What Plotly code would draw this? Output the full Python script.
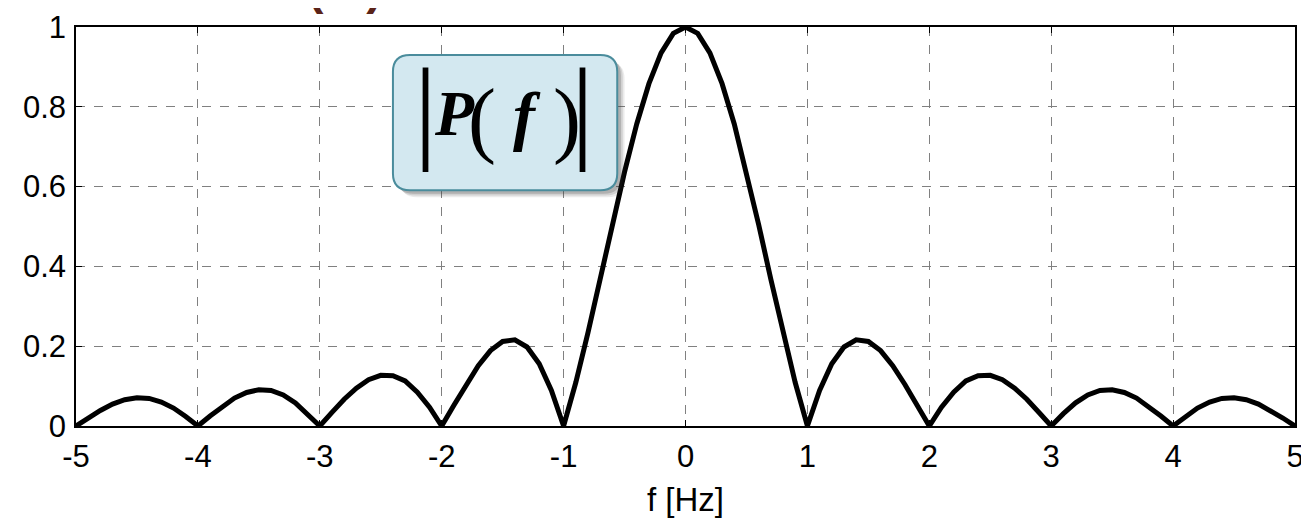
import plotly.graph_objects as go

freq = [round(-5 + 0.1 * i, 1) for i in range(101)]
magnitude = [
    0.000, 0.020, 0.039, 0.055, 0.066, 0.071, 0.069, 0.060, 0.045, 0.024,
    0.000, 0.025, 0.049, 0.070, 0.084, 0.091, 0.089, 0.078, 0.058, 0.031,
    0.000, 0.034, 0.067, 0.095, 0.116, 0.127, 0.126, 0.113, 0.085, 0.047,
    0.000, 0.052, 0.104, 0.151, 0.189, 0.212, 0.216, 0.198, 0.156, 0.089,
    0.000, 0.109, 0.234, 0.368, 0.505, 0.637, 0.757, 0.858, 0.935, 0.984,
    1.000,
    0.984, 0.935, 0.858, 0.757, 0.637, 0.505, 0.368, 0.234, 0.109, 0.000,
    0.089, 0.156, 0.198, 0.216, 0.212, 0.189, 0.151, 0.104, 0.052, 0.000,
    0.047, 0.085, 0.113, 0.126, 0.127, 0.116, 0.095, 0.067, 0.034, 0.000,
    0.031, 0.058, 0.078, 0.089, 0.091, 0.084, 0.070, 0.049, 0.025, 0.000,
    0.024, 0.045, 0.060, 0.069, 0.071, 0.066, 0.055, 0.039, 0.020, 0.000,
]
x_ticks = [-5, -4, -3, -2, -1, 0, 1, 2, 3, 4, 5]
y_ticks = [0, 0.2, 0.4, 0.6, 0.8, 1]
y_tick_labels = ["0", "0.2", "0.4", "0.6", "0.8", "1"]
x_title = "f [Hz]"

fig = go.Figure()
fig.add_trace(go.Scatter(x=freq, y=magnitude, mode="lines",
                         line=dict(color="black", width=5), showlegend=False))

def rounded(x0, x1, y0, y1, rx, ry):
    return (f"M {x0+rx},{y1} L {x1-rx},{y1} Q {x1},{y1} {x1},{y1-ry} "
            f"L {x1},{y0+ry} Q {x1},{y0} {x1-rx},{y0} L {x0+rx},{y0} "
            f"Q {x0},{y0} {x0},{y0+ry} L {x0},{y1-ry} Q {x0},{y1} {x0+rx},{y1} Z")

bx0, bx1, by0, by1 = -2.40, -0.56, 0.591, 0.930
rx, ry = 0.14, 0.042
# soft shadow
for k, a in [(0.06, 0.10), (0.045, 0.15), (0.03, 0.22)]:
    fig.add_shape(type="path", path=rounded(bx0 + k, bx1 + k, by0 - k * 0.3, by1 - k * 0.3, rx, ry),
                  fillcolor=f"rgba(60,60,60,{a})", line=dict(width=0), layer="above")
fig.add_shape(type="path", path=rounded(bx0, bx1, by0, by1, rx, ry),
              fillcolor="#d3e8f0", line=dict(color="#4a8c9c", width=2), layer="above")

# |P(f)| label built from glyph pieces (stretched delimiters)
pieces = [
    ("|", -2.137, 0.794, 115, ""),
    ("P", -1.899, 0.783, 64, "bi"),
    ("(", -1.670, 0.769, 84, ""),
    ("f", -1.300, 0.779, 66, "bi"),
    (")", -0.972, 0.769, 84, ""),
    ("|", -0.849, 0.794, 115, ""),
]
for txt, px, py, size, style in pieces:
    t = f"<b><i>{txt}</i></b>" if style == "bi" else txt
    fig.add_annotation(x=px, y=py, text=t, showarrow=False,
                       font=dict(family="Liberation Serif", size=size, color="black"),
                       xanchor="center", yanchor="middle")

# clipped brown title at the very top
fig.add_annotation(x=0.202, y=1.0, xref="paper", yref="paper", yshift=11, text="<b>P ( f )</b>",
                   showarrow=False, font=dict(family="Liberation Sans", size=48, color="#5a2318"),
                   xanchor="center", yanchor="bottom")

axis_common = dict(showline=True, linecolor="black", linewidth=1.5, mirror="ticks",
                   ticks="inside", ticklen=6, tickcolor="black", automargin=False,
                   showgrid=True, gridcolor="#808080", griddash="dash", gridwidth=1,
                   zeroline=False,
                   tickfont=dict(family="Liberation Sans", size=31, color="black"))
fig.update_xaxes(range=[-5, 5], tickvals=x_ticks, ticktext=[str(v) for v in x_ticks],
                 title=dict(text=x_title, font=dict(family="Liberation Sans", size=33, color="black"),
                            standoff=15),
                 ticklabelstandoff=2, **axis_common)
fig.update_yaxes(range=[0, 1], tickvals=y_ticks, ticktext=y_tick_labels,
                 ticklabelstandoff=2, **axis_common)
# the page places the figure 8px from the top-left corner
fig.update_layout(width=1301, height=512, margin=dict(l=68, r=14, t=19, b=94),
                  plot_bgcolor="white", paper_bgcolor="white")
fig.write_html("out.html")
